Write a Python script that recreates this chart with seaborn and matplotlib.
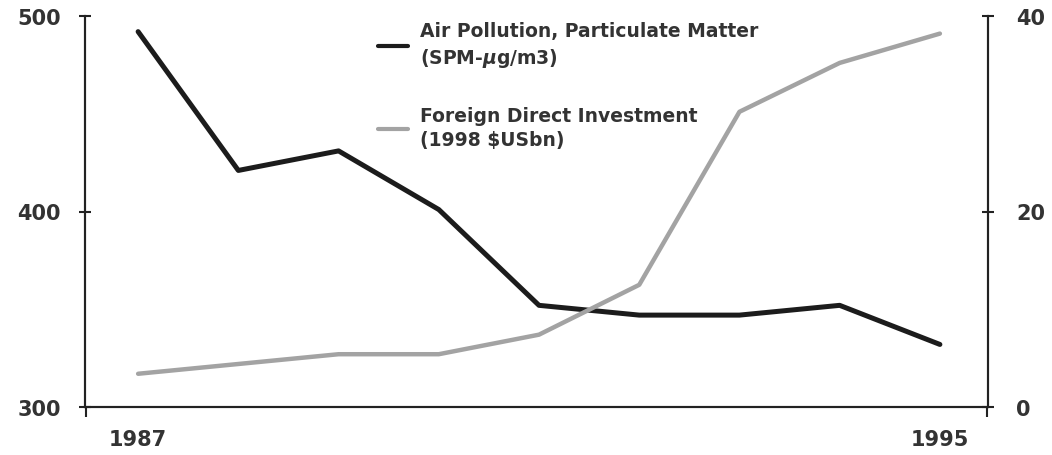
import seaborn as sns
import matplotlib.pyplot as plt
import pandas as pd

years = [1987, 1988, 1989, 1990, 1991, 1992, 1993, 1994, 1995]
pollution = [492, 421, 431, 401, 352, 347, 347, 352, 332]
fdi = [3.4, 4.4, 5.4, 5.4, 7.4, 12.5, 30.2, 35.2, 38.2]

df = pd.DataFrame({"year": years, "pollution": pollution, "fdi": fdi})

sns.set_style("white")
plt.rcParams['font.family'] = ['DejaVu Sans']
plt.rcParams['font.weight'] = 'bold'

fig = plt.figure(figsize=(10.52, 4.56), dpi=100)
ax = fig.add_axes([85 / 1052, 1 - 408 / 456, (988 - 85) / 1052, (408 - 17) / 456])
ax2 = ax.twinx()

sns.lineplot(data=df, x="year", y="pollution", ax=ax, color="#1c1c1c", linewidth=3.6,
             label="Air Pollution, Particulate Matter\n(SPM-$\\mu$g/m3)", legend=False)
sns.lineplot(data=df, x="year", y="fdi", ax=ax2, color="#a3a3a3", linewidth=3.2,
             label="Foreign Direct Investment\n(1998 $USbn)", legend=False)

ax.set_xlim(1986.47, 1995.48)
ax.set_ylim(300, 500)
ax2.set_ylim(0, 40)
ax.set_yticks([300, 400, 500])
ax2.set_yticks([0, 20, 40])
ax.set_xticks([1987, 1995])
ax.set_xticks([1986.475, 1995.475], minor=True)
ax.set_xlabel("")
ax.set_ylabel("")
ax2.set_ylabel("")

axis_col = "#222222"
text_col = "#333333"
for a in (ax, ax2):
    for s in a.spines.values():
        s.set_color(axis_col)
        s.set_linewidth(1.5)
    a.spines["top"].set_visible(False)
    a.tick_params(axis="y", direction="inout", length=9, width=1.5, color=axis_col,
                  labelsize=15, labelcolor=text_col)
ax.tick_params(axis="y", pad=13)
ax2.tick_params(axis="y", pad=16)
ax.tick_params(axis="x", which="major", length=0, labelsize=15, labelcolor=text_col, pad=16)
ax.tick_params(axis="x", which="minor", bottom=True, direction="out", length=7, width=1.5,
               color=axis_col)

h1, l1 = ax.get_legend_handles_labels()
h2, l2 = ax2.get_legend_handles_labels()
leg = ax2.legend(h1 + h2, l1 + l2, loc="upper left", bbox_to_anchor=(0.314, 1.01),
                 frameon=False, fontsize=13.5, handlelength=1.6, handletextpad=0.64,
                 labelspacing=1.95, borderpad=0)
for t in leg.get_texts():
    t.set_color(text_col)
    t.set_linespacing(1.35)
for ln in leg.get_lines():
    ln.set_linewidth(3)

plt.savefig("out.png", dpi=100)
